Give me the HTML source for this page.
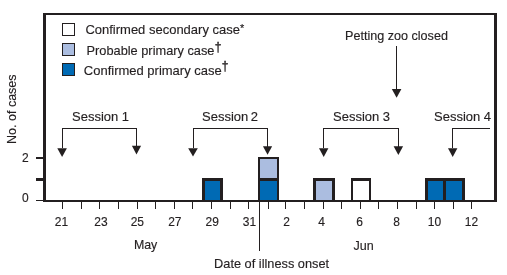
<!DOCTYPE html>
<html><head><meta charset="utf-8"><style>
html,body{margin:0;padding:0;background:#fff;width:507px;height:275px;overflow:hidden}
svg{display:block;will-change:transform}
text{font-family:"Liberation Sans",sans-serif;fill:#231f20;stroke:#231f20;stroke-width:0.15px}
</style></head><body>
<svg width="507" height="275" viewBox="0 0 507 275" shape-rendering="crispEdges">
<rect x="43" y="13" width="3" height="189" fill="#231f20"/>
<rect x="43" y="13" width="454" height="2" fill="#231f20"/>
<rect x="494" y="13" width="3" height="189" fill="#231f20"/>
<rect x="43" y="200" width="454" height="2" fill="#231f20"/>
<rect x="36" y="157" width="7" height="2" fill="#231f20"/>
<rect x="36" y="178" width="7" height="3" fill="#231f20"/>
<rect x="36" y="200" width="7" height="1" fill="#231f20"/>
<rect x="62" y="202" width="1" height="7" fill="#231f20"/>
<rect x="81" y="202" width="1" height="7" fill="#231f20"/>
<rect x="99" y="202" width="1" height="7" fill="#231f20"/>
<rect x="118" y="202" width="1" height="7" fill="#231f20"/>
<rect x="137" y="202" width="1" height="7" fill="#231f20"/>
<rect x="155" y="202" width="1" height="7" fill="#231f20"/>
<rect x="174" y="202" width="1" height="7" fill="#231f20"/>
<rect x="192" y="202" width="1" height="7" fill="#231f20"/>
<rect x="211" y="202" width="1" height="7" fill="#231f20"/>
<rect x="230" y="202" width="1" height="7" fill="#231f20"/>
<rect x="248" y="202" width="1" height="7" fill="#231f20"/>
<rect x="268" y="202" width="1" height="7" fill="#231f20"/>
<rect x="285" y="202" width="1" height="7" fill="#231f20"/>
<rect x="304" y="202" width="1" height="7" fill="#231f20"/>
<rect x="323" y="202" width="1" height="7" fill="#231f20"/>
<rect x="341" y="202" width="1" height="7" fill="#231f20"/>
<rect x="360" y="202" width="1" height="7" fill="#231f20"/>
<rect x="378" y="202" width="1" height="7" fill="#231f20"/>
<rect x="397" y="202" width="1" height="7" fill="#231f20"/>
<rect x="416" y="202" width="1" height="7" fill="#231f20"/>
<rect x="434" y="202" width="1" height="7" fill="#231f20"/>
<rect x="453" y="202" width="1" height="7" fill="#231f20"/>
<rect x="471" y="202" width="1" height="7" fill="#231f20"/>
<rect x="259" y="202" width="1" height="49" fill="#231f20"/>
<rect x="202" y="178" width="21" height="22" fill="#231f20"/>
<rect x="205" y="181" width="15" height="19" fill="#006ab4"/>
<rect x="258" y="157" width="21" height="43" fill="#231f20"/>
<rect x="260" y="159" width="17" height="19" fill="#abbde0"/>
<rect x="260" y="181" width="17" height="19" fill="#006ab4"/>
<rect x="313" y="178" width="22" height="22" fill="#231f20"/>
<rect x="316" y="181" width="16" height="19" fill="#abbde0"/>
<rect x="351" y="178" width="20" height="22" fill="#231f20"/>
<rect x="353" y="181" width="16" height="19" fill="#fff"/>
<rect x="425" y="178" width="40" height="22" fill="#231f20"/>
<rect x="428" y="181" width="15" height="19" fill="#006ab4"/>
<rect x="446" y="181" width="16" height="19" fill="#006ab4"/>
<rect x="62" y="23" width="13" height="13" fill="#231f20"/>
<rect x="63" y="24" width="11" height="11" fill="#fff"/>
<rect x="62" y="43" width="13" height="13" fill="#231f20"/>
<rect x="63" y="44" width="11" height="11" fill="#abbde0"/>
<rect x="62" y="63" width="13" height="13" fill="#231f20"/>
<rect x="63" y="64" width="11" height="11" fill="#006ab4"/>
<rect x="62" y="128" width="75" height="1" fill="#231f20"/>
<rect x="62" y="128" width="1" height="20" fill="#231f20"/>
<rect x="136" y="128" width="1" height="19" fill="#231f20"/>
<path d="M57.300000000000004 148.3L66.9 148.3L62.1 157.05Z" fill="#231f20" shape-rendering="geometricPrecision"/>
<path d="M131.9 145.7L141.1 145.7L136.5 154.6Z" fill="#231f20" shape-rendering="geometricPrecision"/>
<rect x="193" y="128" width="75" height="1" fill="#231f20"/>
<rect x="193" y="128" width="1" height="20" fill="#231f20"/>
<rect x="267" y="128" width="1" height="19" fill="#231f20"/>
<path d="M188.2 148.3L197.8 148.3L193 156.45Z" fill="#231f20" shape-rendering="geometricPrecision"/>
<path d="M262.95 146.3L272.15000000000003 146.3L267.55 154.8Z" fill="#231f20" shape-rendering="geometricPrecision"/>
<rect x="323" y="128" width="76" height="1" fill="#231f20"/>
<rect x="323" y="128" width="1" height="20" fill="#231f20"/>
<rect x="398" y="128" width="1" height="19" fill="#231f20"/>
<path d="M319.0 148.2L328.4 148.2L323.7 156.9Z" fill="#231f20" shape-rendering="geometricPrecision"/>
<path d="M393.6 146.3L403.1 146.3L398.35 155.1Z" fill="#231f20" shape-rendering="geometricPrecision"/>
<rect x="452" y="128" width="38" height="1" fill="#231f20"/>
<rect x="452" y="128" width="1" height="20" fill="#231f20"/>
<path d="M448.0 148.2L457.4 148.2L452.7 157Z" fill="#231f20" shape-rendering="geometricPrecision"/>
<rect x="396" y="46" width="1" height="43" fill="#231f20"/>
<path d="M391.8 89.1L401.40000000000003 89.1L396.6 97.7Z" fill="#231f20" shape-rendering="geometricPrecision"/>
<text transform="translate(85.4,34.4) scale(1,1.03)" font-size="13" text-anchor="start" >Confirmed secondary case<tspan dx="0.1" dy="-1.9" font-size="11">*</tspan></text>
<text transform="translate(86.5,55) scale(1,1.03)" font-size="12.8" text-anchor="start" >Probable primary case<tspan dx="0.4" dy="-4" font-size="12" stroke="#231f20" stroke-width="0.35">†</tspan></text>
<text transform="translate(83.8,75) scale(1,1.03)" font-size="13" text-anchor="start" >Confirmed primary case<tspan dy="-5" font-size="12" stroke="#231f20" stroke-width="0.35">†</tspan></text>
<text transform="translate(72,121.3) scale(1,1.03)" font-size="13" text-anchor="start" >Session 1</text>
<text transform="translate(202,121.3) scale(1,1.03)" font-size="13" text-anchor="start" word-spacing="-1">Session 2</text>
<text transform="translate(333,121.3) scale(1,1.03)" font-size="13" text-anchor="start" >Session 3</text>
<text transform="translate(434,121.3) scale(1,1.03)" font-size="13" text-anchor="start" >Session 4</text>
<text transform="translate(345,40.4) scale(1,1.03)" font-size="12.6" text-anchor="start" >Petting zoo closed</text>
<text x="0" y="0" font-size="12.5" text-anchor="middle" transform="translate(16.4,109.2) rotate(-90)">No. of cases</text>
<text transform="translate(61.4,225.8) scale(1,1.03)" font-size="12" text-anchor="middle" >21</text>
<text transform="translate(100.9,225.8) scale(1,1.03)" font-size="12" text-anchor="middle" >23</text>
<text transform="translate(137.3,225.8) scale(1,1.03)" font-size="12" text-anchor="middle" >25</text>
<text transform="translate(174.8,225.8) scale(1,1.03)" font-size="12" text-anchor="middle" >27</text>
<text transform="translate(212.2,225.8) scale(1,1.03)" font-size="12" text-anchor="middle" >29</text>
<text transform="translate(249.4,225.8) scale(1,1.03)" font-size="12" text-anchor="middle" >31</text>
<text transform="translate(286.5,225.8) scale(1,1.03)" font-size="12" text-anchor="middle" >2</text>
<text transform="translate(321.5,225.8) scale(1,1.03)" font-size="12" text-anchor="middle" >4</text>
<text transform="translate(359.5,225.8) scale(1,1.03)" font-size="12" text-anchor="middle" >6</text>
<text transform="translate(396.6,225.8) scale(1,1.03)" font-size="12" text-anchor="middle" >8</text>
<text transform="translate(434.4,225.8) scale(1,1.03)" font-size="12" text-anchor="middle" >10</text>
<text transform="translate(471.4,225.8) scale(1,1.03)" font-size="12" text-anchor="middle" >12</text>
<text transform="translate(22,161.5) scale(1,1.03)" font-size="12" text-anchor="start" >2</text>
<text transform="translate(22,201.5) scale(1,1.03)" font-size="12" text-anchor="start" >0</text>
<text transform="translate(145.6,249.2) scale(0.955,1.03)" font-size="13" text-anchor="middle" >May</text>
<text transform="translate(363.7,249.9) scale(0.965,1.03)" font-size="13" text-anchor="middle" >Jun</text>
<text transform="translate(271.6,268.2) scale(0.983,1.03)" font-size="13" text-anchor="middle" >Date of illness onset</text>
</svg>
</body></html>
